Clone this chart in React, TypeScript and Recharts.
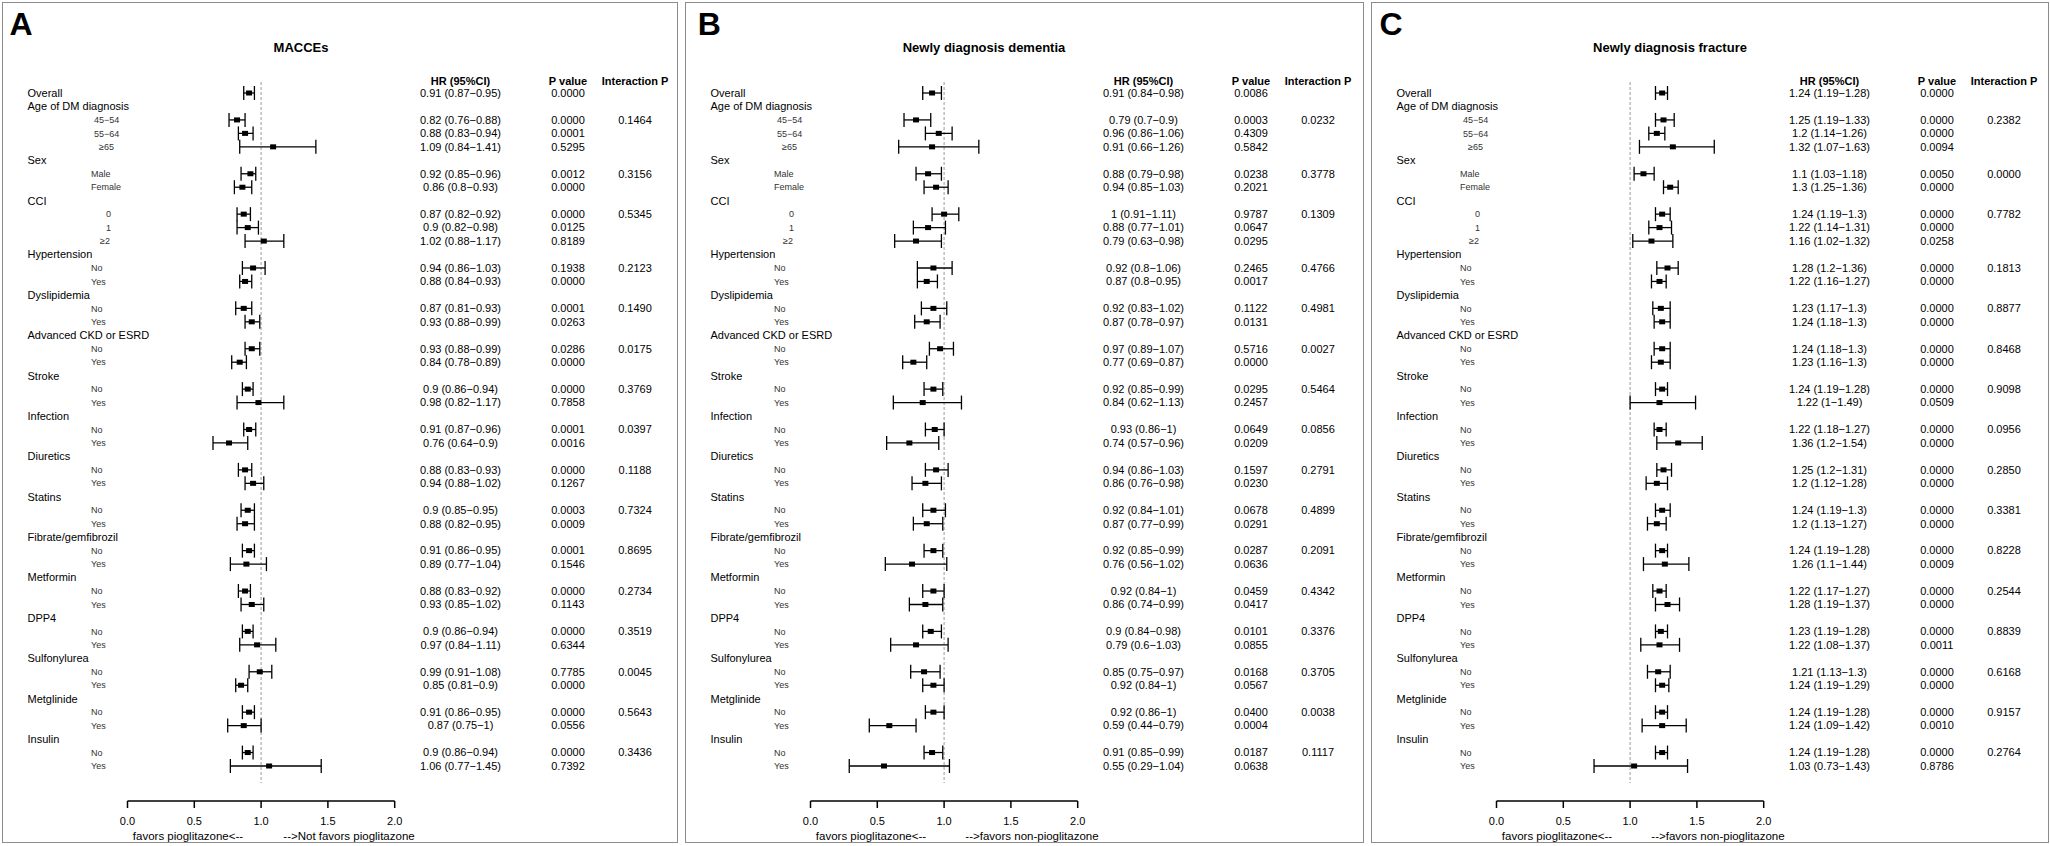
import React from 'react';
import { ScatterChart, Scatter, XAxis, YAxis, ErrorBar, ReferenceLine } from 'recharts';

const FONT = '"Liberation Sans", Arial, Helvetica, sans-serif';

// subgroup variables; the first one carries the overall estimate on its own row
const groups = [
  'Overall', 'Age of DM diagnosis', 'Sex', 'CCI', 'Hypertension', 'Dyslipidemia',
  'Advanced CKD or ESRD', 'Stroke', 'Infection', 'Diuretics', 'Statins',
  'Fibrate/gemfibrozil', 'Metformin', 'DPP4', 'Sulfonylurea', 'Metglinide', 'Insulin'
];
const noYes = ['No', 'Yes'];
const levels: string[][] = [
  [], ['45−54', '55−64', '≥65'], ['Male', 'Female'], ['0', '1', '≥2'],
  noYes, noYes, noYes, noYes, noYes, noYes, noYes, noYes, noYes, noYes, noYes, noYes, noYes
];

const xTicks = [0, 0.5, 1, 1.5, 2];
const panelLetters = ['A', 'B', 'C'];
const panelTitles = ['MACCEs', 'Newly diagnosis dementia', 'Newly diagnosis fracture'];
const leftNotes = ['favors pioglitazone<--', 'favors pioglitazone<--', 'favors pioglitazone<--'];
const rightNotes = ['-->Not favors pioglitazone', '-->favors non-pioglitazone', '-->favors non-pioglitazone'];
const headers = ['HR (95%CI)', 'P value', 'Interaction P'];

// A: MACCEs
const maccesHR = [0.91, 0.82, 0.88, 1.09, 0.92, 0.86, 0.87, 0.9, 1.02, 0.94, 0.88, 0.87, 0.93, 0.93, 0.84, 0.9, 0.98, 0.91, 0.76, 0.88, 0.94, 0.9, 0.88, 0.91, 0.89, 0.88, 0.93, 0.9, 0.97, 0.99, 0.85, 0.91, 0.87, 0.9, 1.06];
const maccesLo = [0.87, 0.76, 0.83, 0.84, 0.85, 0.8, 0.82, 0.82, 0.88, 0.86, 0.84, 0.81, 0.88, 0.88, 0.78, 0.86, 0.82, 0.87, 0.64, 0.83, 0.88, 0.85, 0.82, 0.86, 0.77, 0.83, 0.85, 0.86, 0.84, 0.91, 0.81, 0.86, 0.75, 0.86, 0.77];
const maccesHi = [0.95, 0.88, 0.94, 1.41, 0.96, 0.93, 0.92, 0.98, 1.17, 1.03, 0.93, 0.93, 0.99, 0.99, 0.89, 0.94, 1.17, 0.96, 0.9, 0.93, 1.02, 0.95, 0.95, 0.95, 1.04, 0.92, 1.02, 0.94, 1.11, 1.08, 0.9, 0.95, 1, 0.94, 1.45];
const maccesP = ['0.0000', '0.0000', '0.0001', '0.5295', '0.0012', '0.0000', '0.0000', '0.0125', '0.8189', '0.1938', '0.0000', '0.0001', '0.0263', '0.0286', '0.0000', '0.0000', '0.7858', '0.0001', '0.0016', '0.0000', '0.1267', '0.0003', '0.0009', '0.0001', '0.1546', '0.0000', '0.1143', '0.0000', '0.6344', '0.7785', '0.0000', '0.0000', '0.0556', '0.0000', '0.7392'];
const maccesInt = ['0.1464', '0.3156', '0.5345', '0.2123', '0.1490', '0.0175', '0.3769', '0.0397', '0.1188', '0.7324', '0.8695', '0.2734', '0.3519', '0.0045', '0.5643', '0.3436'];

// B: dementia
const dementiaHR = [0.91, 0.79, 0.96, 0.91, 0.88, 0.94, 1, 0.88, 0.79, 0.92, 0.87, 0.92, 0.87, 0.97, 0.77, 0.92, 0.84, 0.93, 0.74, 0.94, 0.86, 0.92, 0.87, 0.92, 0.76, 0.92, 0.86, 0.9, 0.79, 0.85, 0.92, 0.92, 0.59, 0.91, 0.55];
const dementiaLo = [0.84, 0.7, 0.86, 0.66, 0.79, 0.85, 0.91, 0.77, 0.63, 0.8, 0.8, 0.83, 0.78, 0.89, 0.69, 0.85, 0.62, 0.86, 0.57, 0.86, 0.76, 0.84, 0.77, 0.85, 0.56, 0.84, 0.74, 0.84, 0.6, 0.75, 0.84, 0.86, 0.44, 0.85, 0.29];
const dementiaHi = [0.98, 0.9, 1.06, 1.26, 0.98, 1.03, 1.11, 1.01, 0.98, 1.06, 0.95, 1.02, 0.97, 1.07, 0.87, 0.99, 1.13, 1, 0.96, 1.03, 0.98, 1.01, 0.99, 0.99, 1.02, 1, 0.99, 0.98, 1.03, 0.97, 1, 1, 0.79, 0.99, 1.04];
const dementiaP = ['0.0086', '0.0003', '0.4309', '0.5842', '0.0238', '0.2021', '0.9787', '0.0647', '0.0295', '0.2465', '0.0017', '0.1122', '0.0131', '0.5716', '0.0000', '0.0295', '0.2457', '0.0649', '0.0209', '0.1597', '0.0230', '0.0678', '0.0291', '0.0287', '0.0636', '0.0459', '0.0417', '0.0101', '0.0855', '0.0168', '0.0567', '0.0400', '0.0004', '0.0187', '0.0638'];
const dementiaInt = ['0.0232', '0.3778', '0.1309', '0.4766', '0.4981', '0.0027', '0.5464', '0.0856', '0.2791', '0.4899', '0.2091', '0.4342', '0.3376', '0.3705', '0.0038', '0.1117'];

// C: fracture
const fractureHR = [1.24, 1.25, 1.2, 1.32, 1.1, 1.3, 1.24, 1.22, 1.16, 1.28, 1.22, 1.23, 1.24, 1.24, 1.23, 1.24, 1.22, 1.22, 1.36, 1.25, 1.2, 1.24, 1.2, 1.24, 1.26, 1.22, 1.28, 1.23, 1.22, 1.21, 1.24, 1.24, 1.24, 1.24, 1.03];
const fractureLo = [1.19, 1.19, 1.14, 1.07, 1.03, 1.25, 1.19, 1.14, 1.02, 1.2, 1.16, 1.17, 1.18, 1.18, 1.16, 1.19, 1, 1.18, 1.2, 1.2, 1.12, 1.19, 1.13, 1.19, 1.1, 1.17, 1.19, 1.19, 1.08, 1.13, 1.19, 1.19, 1.09, 1.19, 0.73];
const fractureHi = [1.28, 1.33, 1.26, 1.63, 1.18, 1.36, 1.3, 1.31, 1.32, 1.36, 1.27, 1.3, 1.3, 1.3, 1.3, 1.28, 1.49, 1.27, 1.54, 1.31, 1.28, 1.3, 1.27, 1.28, 1.44, 1.27, 1.37, 1.28, 1.37, 1.3, 1.29, 1.28, 1.42, 1.28, 1.43];
const fractureP = ['0.0000', '0.0000', '0.0000', '0.0094', '0.0050', '0.0000', '0.0000', '0.0000', '0.0258', '0.0000', '0.0000', '0.0000', '0.0000', '0.0000', '0.0000', '0.0000', '0.0509', '0.0000', '0.0000', '0.0000', '0.0000', '0.0000', '0.0000', '0.0000', '0.0009', '0.0000', '0.0000', '0.0000', '0.0011', '0.0000', '0.0000', '0.0000', '0.0010', '0.0000', '0.8786'];
const fractureInt = ['0.2382', '0.0000', '0.7782', '0.1813', '0.8877', '0.8468', '0.9098', '0.0956', '0.2850', '0.3381', '0.8228', '0.2544', '0.8839', '0.6168', '0.9157', '0.2764'];

type Row = { row: number; label: string; level: boolean; est: number; group: number; first: boolean };

const rows: Row[] = [];
let estCount = 0;
groups.forEach((g, gi) => {
  if (gi === 0) {
    rows.push({ row: 0, label: g, level: false, est: estCount++, group: -1, first: false });
    return;
  }
  rows.push({ row: rows.length, label: g, level: false, est: -1, group: gi - 1, first: false });
  levels[gi].forEach((lv, li) =>
    rows.push({ row: rows.length, label: lv, level: true, est: estCount++, group: gi - 1, first: li === 0 })
  );
});

type PanelData = { hr: number[]; lo: number[]; hi: number[]; p: string[]; inter: string[] };
const panelData: PanelData[] = [
  { hr: maccesHR, lo: maccesLo, hi: maccesHi, p: maccesP, inter: maccesInt },
  { hr: dementiaHR, lo: dementiaLo, hi: dementiaHi, p: dementiaP, inter: dementiaInt },
  { hr: fractureHR, lo: fractureLo, hi: fractureHi, p: fractureP, inter: fractureInt }
];

// layout (pixels)
const H = 846;
const ROW0 = 93;
const ROW_H = 13.46;
const AXIS_Y = 801;
const Y_MIN = -1;
const Y_MAX = (AXIS_Y - ROW0) / ROW_H;
const X0 = 125.5;
const X_SPAN = 267.2;
const YAXIS_W = 100;
const XAXIS_H = 30;
const panelLeft = [2, 685, 1371];
const panelWidth = [676, 679, 678];
const letterX = [7.5, 12.7, 8.4];
const COL_HR = 458.5;
const COL_P = 566;
const COL_INT = 633;
const subIndent: Record<string, number> = { '45−54': 92, '55−64': 92, '≥65': 97, '0': 104, '1': 104, '≥2': 98 };

const rowTicks = [-0.9, ...rows.map((r) => r.row)];

const fmtHR = (h: number, l: number, u: number) => `${h} (${l}−${u})`;

const makeTick = (d: PanelData) => (props: any) => {
  const v = props.payload.value as number;
  const y = props.y as number;
  const base = { fontFamily: FONT, dy: '0.35em' };
  if (v < 0) {
    return (
      <g>
        <text {...base} x={COL_HR} y={y} textAnchor="middle" fontSize={11} fontWeight="bold" fill="#000">{headers[0]}</text>
        <text {...base} x={COL_P} y={y} textAnchor="middle" fontSize={11} fontWeight="bold" fill="#000">{headers[1]}</text>
        <text {...base} x={COL_INT} y={y} textAnchor="middle" fontSize={11} fontWeight="bold" fill="#000">{headers[2]}</text>
      </g>
    );
  }
  const r = rows[Math.round(v)];
  return (
    <g>
      {r.level ? (
        <text {...base} x={subIndent[r.label] ?? 89} y={y} fontSize={9} fill="#333">{r.label}</text>
      ) : (
        <text {...base} x={25.5} y={y} fontSize={11} fill="#000">{r.label}</text>
      )}
      {r.est >= 0 && (
        <text {...base} x={COL_HR} y={y} textAnchor="middle" fontSize={11} fill="#000">
          {fmtHR(d.hr[r.est], d.lo[r.est], d.hi[r.est])}
        </text>
      )}
      {r.est >= 0 && (
        <text {...base} x={COL_P} y={y} textAnchor="middle" fontSize={11} fill="#000">{d.p[r.est]}</text>
      )}
      {r.first && (
        <text {...base} x={COL_INT} y={y} textAnchor="middle" fontSize={11} fill="#000">{d.inter[r.group]}</text>
      )}
    </g>
  );
};

const Box = (props: any) => {
  const { cx, cy } = props;
  if (cx == null || cy == null) return null;
  return <rect x={cx - 3} y={cy - 2.5} width={6} height={5} fill="#000" />;
};

function Panel({ i }: { i: number }) {
  const d = panelData[i];
  const w = panelWidth[i];
  const points = rows
    .filter((r) => r.est >= 0)
    .map((r) => ({
      x: d.hr[r.est],
      y: r.row,
      err: [d.hr[r.est] - d.lo[r.est], d.hi[r.est] - d.hr[r.est]]
    }));
  const dashTop = (82 - ROW0) / ROW_H;
  const dashBottom = (783 - ROW0) / ROW_H;

  return (
    <div style={{ position: 'absolute', left: panelLeft[i], top: 0, width: w, height: H }}>
      <div
        style={{
          position: 'absolute', left: 0, top: 2, width: w, height: 841,
          border: '1px solid #8c8c8c', boxSizing: 'border-box'
        }}
      />
      <ScatterChart
        width={w}
        height={H}
        margin={{
          top: ROW0 + Y_MIN * ROW_H,
          left: X0 - YAXIS_W,
          right: w - X0 - X_SPAN,
          bottom: H - AXIS_Y - XAXIS_H
        }}
        style={{ position: 'absolute', left: 0, top: 0 }}
      >
        <XAxis
          type="number"
          dataKey="x"
          domain={[0, 2]}
          ticks={xTicks}
          allowDataOverflow
          height={XAXIS_H}
          tickSize={7}
          tickMargin={9}
          interval={0}
          tickFormatter={(v: number) => v.toFixed(1)}
          axisLine={{ stroke: '#000', strokeWidth: 1.5 }}
          tickLine={{ stroke: '#000', strokeWidth: 1.5 }}
          tick={{ fill: '#000', fontSize: 11, fontFamily: FONT }}
        />
        <YAxis
          type="number"
          dataKey="y"
          domain={[Y_MIN, Y_MAX]}
          reversed
          allowDataOverflow
          ticks={rowTicks}
          interval={0}
          width={YAXIS_W}
          axisLine={false}
          tickLine={false}
          tick={makeTick(d)}
        />
        <ReferenceLine
          segment={[{ x: 1, y: dashTop }, { x: 1, y: dashBottom }]}
          stroke="#9a9a9a"
          strokeDasharray="3 2"
        />
        <Scatter data={points} shape={Box} isAnimationActive={false}>
          <ErrorBar dataKey="err" direction="x" width={7} stroke="#000" strokeWidth={1.3} isAnimationActive={false} />
        </Scatter>
      </ScatterChart>
      <svg
        width={w}
        height={H}
        style={{ position: 'absolute', left: 0, top: 0, pointerEvents: 'none' }}
        fontFamily={FONT}
      >
        <text x={letterX[i]} y={35} fontSize={32} fontWeight="bold" fill="#000">{panelLetters[i]}</text>
        <text x={299} y={47} dy="0.35em" textAnchor="middle" fontSize={13} fontWeight="bold" fill="#000">{panelTitles[i]}</text>
        <text x={186} y={836} dy="0.35em" textAnchor="middle" fontSize={11.5} fill="#000">{leftNotes[i]}</text>
        <text x={347} y={836} dy="0.35em" textAnchor="middle" fontSize={11.5} fill="#000">{rightNotes[i]}</text>
      </svg>
    </div>
  );
}

export default function App() {
  return (
    <div style={{ position: 'relative', width: 2050, height: H, background: '#fff', fontFamily: FONT }}>
      <style>{'body{margin:0;}'}</style>
      {panelLetters.map((_, i) => (
        <Panel key={i} i={i} />
      ))}
    </div>
  );
}
